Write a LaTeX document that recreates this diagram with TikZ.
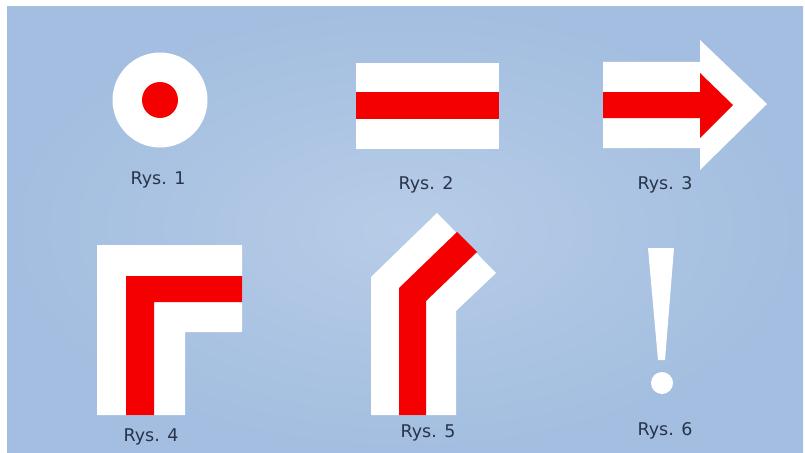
\documentclass[tikz,border=0pt]{standalone}
\usepackage{fontspec}
\newfontfamily\labfont{DejaVu Sans}
\definecolor{bgedge}{HTML}{A3BEE0}
\definecolor{bgmid}{HTML}{B7CCE7}
\definecolor{signred}{HTML}{F50000}
\definecolor{labtext}{HTML}{27344A}
\begin{document}
\begin{tikzpicture}[x=1pt,y=-1pt,
  white part/.style={fill=white,draw=none},
  red part/.style={fill=signred,draw=none},
  caption/.style={font=\labfont\fontsize{17.5}{20}\selectfont,text=labtext,inner sep=0pt}]
\useasboundingbox (0,0) rectangle (805,452);
\fill[white] (0,0) rectangle (805,452);
\shade[inner color=bgmid,outer color=bgedge] (7,7) rectangle (803,452);
% Rys. 1
\fill[white part] (160,100) circle[radius=47.5];
\fill[red part] (160,100) circle[radius=18];
\node[caption] (l1) at (158,180) {Rys. 1};
% Rys. 2
\fill[white part] (356,63) rectangle (499,149);
\fill[red part] (356,92) rectangle (499,119);
\node[caption] (l2) at (426,185) {Rys. 2};
% Rys. 3
\fill[white part] (603,62) -- (700,62) -- (700,40) -- (767,104) -- (700,170) -- (700,148) -- (603,148) -- cycle;
\fill[red part] (603,92) -- (700,92) -- (700,73) -- (733,105) -- (700,138) -- (700,118) -- (603,118) -- cycle;
\node[caption] (l3) at (665,185) {Rys. 3};
% Rys. 4
\fill[white part] (97,245) -- (242,245) -- (242,332) -- (185,332) -- (185,415) -- (97,415) -- cycle;
\fill[red part] (126,276) -- (242,276) -- (242,302) -- (154,302) -- (154,415) -- (126,415) -- cycle;
\node[caption] (l4) at (151,437) {Rys. 4};
% Rys. 5
\fill[white part] (371,415) -- (371,277) -- (437,213) -- (496,273) -- (456,311) -- (456,415) -- cycle;
\fill[red part] (399,415) -- (399,288) -- (457,232) -- (477,252) -- (426,301) -- (426,415) -- cycle;
\node[caption] (l5) at (428,433) {Rys. 5};
% Rys. 6
\fill[white part] (648,248) -- (674,248) -- (665,360) -- (658,360) -- cycle;
\fill[white part] (662,383) circle[radius=11];
\node[caption] (l6) at (665,431) {Rys. 6};
\end{tikzpicture}
\end{document}
